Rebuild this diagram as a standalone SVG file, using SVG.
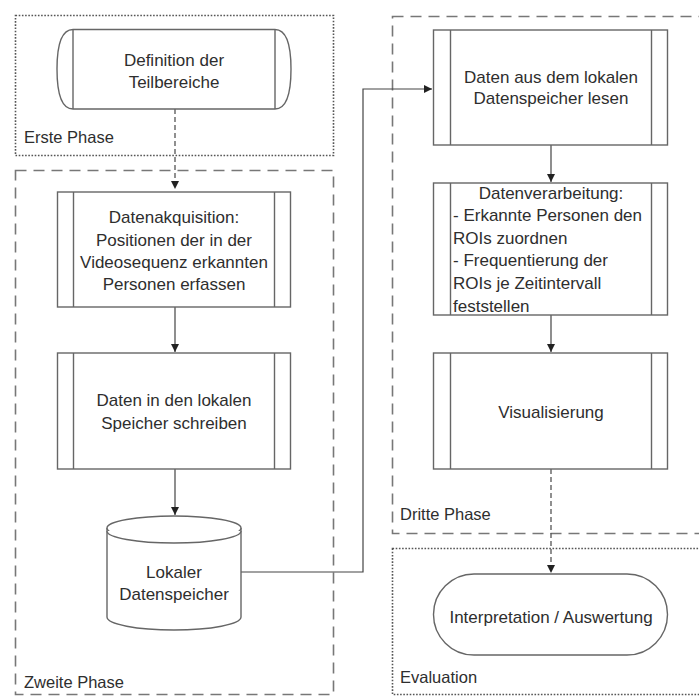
<svg xmlns="http://www.w3.org/2000/svg" width="699" height="697" viewBox="0 0 699 697">
<defs>
<style>
.zone-dot{fill:none;stroke:#555;stroke-width:1.6;stroke-dasharray:1.6 1.6}
.zone-dash{fill:none;stroke:#777;stroke-width:1.6;stroke-dasharray:11 7}
.node{fill:#fff;stroke:#666;stroke-width:1.4}
.conn{fill:none;stroke:#444;stroke-width:1.2}
.dconn{fill:none;stroke:#555;stroke-width:1.3;stroke-dasharray:5 3}
text{font-family:"Liberation Sans",Arial,sans-serif;font-size:17px;fill:#2e2e2e}
.lbl{font-size:16.5px}
.c{text-anchor:middle}
</style>
<marker id="arr" viewBox="0 0 10 10" refX="10" refY="5" markerWidth="8" markerHeight="8" markerUnits="userSpaceOnUse" orient="auto">
<path d="M0,0 L10,5 L0,10 z" fill="#222"/>
</marker>
</defs>
<rect width="699" height="697" fill="#fff"/>

<g id="zones">
<rect class="zone-dot" x="15.5" y="15.5" width="318" height="140"/>
<rect class="zone-dash" x="15.5" y="170.5" width="318" height="524"/>
<rect class="zone-dash" x="392.5" y="16.5" width="330" height="517"/>
<rect class="zone-dot" x="392.5" y="548.5" width="330" height="146"/>
<text class="lbl" x="24" y="143">Erste Phase</text>
<text class="lbl" x="24" y="688">Zweite Phase</text>
<text class="lbl" x="400" y="520">Dritte Phase</text>
<text class="lbl" x="400" y="683">Evaluation</text>
</g>

<g id="connectors">
<path class="dconn" d="M175,109 V189" marker-end="url(#arr)"/>
<path class="conn" d="M175,307 V352" marker-end="url(#arr)"/>
<path class="conn" d="M175,469 V515" marker-end="url(#arr)"/>
<path class="conn" d="M241,572 H363 V89 H432" marker-end="url(#arr)"/>
<path class="conn" d="M551,145 V182" marker-end="url(#arr)"/>
<path class="conn" d="M551,315 V352" marker-end="url(#arr)"/>
<path class="dconn" d="M551,469 V573" marker-end="url(#arr)"/>
</g>

<g id="n-definition">
<path class="node" d="M73,29.5 H275 Q291,29.5 291,69 Q291,109 275,109 H73 Q57,109 57,69 Q57,29.5 73,29.5 Z"/>
<path class="node" d="M73,29.5 V109 M275,29.5 V109"/>
<text class="c" x="174" y="66">Definition der</text>
<text class="c" x="174" y="88">Teilbereiche</text>
</g>

<g id="n-akquisition">
<rect class="node" x="57.5" y="192" width="233" height="115"/>
<path class="node" d="M73.5,192 V307 M274.5,192 V307"/>
<text class="c" x="174" y="223">Datenakquisition:</text>
<text class="c" x="174" y="246">Positionen der in der</text>
<text class="c" x="174" y="268">Videosequenz erkannten</text>
<text class="c" x="174" y="290">Personen erfassen</text>
</g>

<g id="n-schreiben">
<rect class="node" x="57.5" y="353" width="233" height="116"/>
<path class="node" d="M73.5,353 V469 M274.5,353 V469"/>
<text class="c" x="174" y="406">Daten in den lokalen</text>
<text class="c" x="174" y="429">Speicher schreiben</text>
</g>

<g id="n-speicher">
<path class="node" d="M107,528 V617 A67,13 0 0 0 241,617 V528"/>
<ellipse class="node" cx="174" cy="528" rx="67" ry="12"/>
<path class="node" d="M107,531 A67,12 0 0 0 241,531"/>
<text class="c" x="174" y="578">Lokaler</text>
<text class="c" x="174" y="600">Datenspeicher</text>
</g>

<g id="n-lesen">
<rect class="node" x="433.5" y="30" width="234" height="115"/>
<path class="node" d="M450.5,30 V145 M651.5,30 V145"/>
<text class="c" x="551" y="83">Daten aus dem lokalen</text>
<text class="c" x="551" y="104">Datenspeicher lesen</text>
</g>

<g id="n-verarbeitung">
<rect class="node" x="433.5" y="183" width="234" height="132"/>
<path class="node" d="M450.5,183 V315 M651.5,183 V315"/>
<text class="c" x="551" y="199">Datenverarbeitung:</text>
<text x="453" y="221">- Erkannte Personen den</text>
<text x="453" y="244">ROIs zuordnen</text>
<text x="453" y="266">- Frequentierung der</text>
<text x="453" y="289">ROIs je Zeitintervall</text>
<text x="453" y="312">feststellen</text>
</g>

<g id="n-visualisierung">
<rect class="node" x="433.5" y="353" width="234" height="116"/>
<path class="node" d="M450.5,353 V469 M651.5,353 V469"/>
<text class="c" x="551" y="418">Visualisierung</text>
</g>

<g id="n-interpretation">
<rect class="node" x="433.5" y="574" width="234" height="81" rx="40.5" ry="40.5"/>
<text class="c" x="551" y="623">Interpretation / Auswertung</text>
</g>
</svg>
